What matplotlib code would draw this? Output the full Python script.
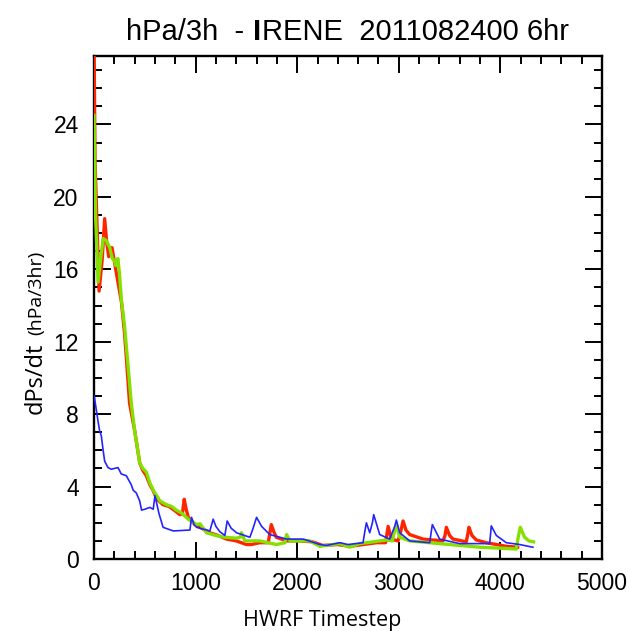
import matplotlib
matplotlib.use("Agg")
import matplotlib.pyplot as plt
from matplotlib.ticker import MultipleLocator

# ---------------- data ----------------
red_x = [0, 10, 50, 80, 105, 125, 145, 177, 220, 270, 300, 320, 350, 400, 450, 480, 515, 550,
         580, 620, 680, 740, 800, 845, 870, 888, 905, 928, 993, 1060, 1140, 1220, 1305, 1400,
         1500, 1550, 1630, 1715, 1745, 1770, 1795, 1895, 2025, 2150, 2250, 2400, 2520, 2650,
         2780, 2870, 2895, 2927, 2992, 3010, 3042, 3070, 3107, 3238, 3435, 3455, 3468, 3500,
         3533, 3664, 3680, 3690, 3720, 3763, 3861, 3960, 4058, 4170]
red_y = [29.0, 22.0, 14.8, 16.5, 18.8, 17.5, 16.7, 17.2, 15.8, 14.2, 12.5, 11.0, 8.6, 7.1, 5.3,
         4.9, 4.6, 4.1, 3.8, 3.3, 3.0, 2.9, 2.65, 2.45, 2.5, 3.3, 2.8, 2.3, 1.9, 1.7, 1.45, 1.3,
         1.1, 1.0, 0.8, 0.8, 0.9, 0.9, 1.9, 1.5, 1.2, 1.0, 1.0, 0.95, 0.75, 0.8, 0.7, 0.8, 0.9,
         0.9, 1.8, 1.1, 1.0, 1.3, 2.1, 1.6, 1.35, 1.1, 1.0, 1.3, 1.75, 1.3, 1.1, 0.95, 1.4, 1.75,
         1.3, 1.05, 0.9, 0.8, 0.7, 0.65]

green_x = [0, 15, 40, 70, 90, 120, 155, 180, 200, 215, 235, 250, 270, 300, 330, 367, 400, 450,
           480, 515, 550, 583, 650, 715, 765, 810, 860, 928, 1010, 1042, 1108, 1200, 1288, 1400,
           1440, 1452, 1485, 1630, 1795, 1880, 1895, 1930, 2025, 2124, 2222, 2419, 2517, 2615,
           2750, 2878, 2937, 2960, 2976, 3009, 3107, 3300, 3402, 3599, 3800, 3992, 4156, 4175,
           4196, 4238, 4280, 4326]
green_y = [24.5, 19.0, 15.3, 16.8, 17.7, 17.6, 17.2, 16.6, 16.5, 16.2, 16.6, 15.8, 14.3, 12.9,
           11.0, 8.6, 7.1, 5.3, 5.0, 4.8, 4.2, 3.8, 3.2, 3.0, 2.9, 2.7, 2.55, 2.2, 1.9, 1.95,
           1.45, 1.3, 1.2, 1.15, 1.2, 1.45, 1.0, 1.0, 0.8, 0.9, 1.35, 1.0, 1.0, 1.0, 0.7, 0.85,
           0.65, 0.85, 0.95, 1.05, 1.0, 1.6, 1.9, 1.2, 1.0, 0.9, 0.85, 0.75, 0.65, 0.6, 0.55,
           1.2, 1.75, 1.2, 1.0, 0.95]

blue_x = [0, 5, 40, 55, 72, 90, 105, 138, 170, 200, 236, 268, 318, 367, 386, 416, 450, 468, 500,
          550, 583, 600, 640, 680, 780, 944, 960, 985, 1010, 1140, 1173, 1200, 1240, 1288, 1311,
          1350, 1403, 1534, 1560, 1600, 1650, 1730, 1895, 2058, 2090, 2222, 2288, 2419, 2500,
          2648, 2668, 2681, 2714, 2740, 2753, 2812, 2910, 2960, 2976, 3009, 3107, 3304, 3322,
          3330, 3402, 3599, 3894, 3905, 3910, 3960, 4058, 4189, 4320]
blue_y = [9.0, 8.9, 7.6, 7.1, 6.8, 6.0, 5.4, 5.05, 4.96, 5.0, 5.05, 4.7, 4.6, 4.1, 3.8, 3.65, 3.2,
          2.7, 2.75, 2.85, 2.75, 3.5, 2.5, 1.75, 1.55, 1.6, 2.3, 1.9, 1.75, 1.55, 2.2, 1.8, 1.5,
          1.3, 2.1, 1.7, 1.45, 1.2, 1.6, 2.3, 1.8, 1.35, 1.1, 1.1, 1.05, 0.8, 0.75, 0.9, 0.8, 0.9,
          1.6, 2.0, 1.45, 2.0, 2.45, 1.35, 1.1, 1.8, 2.15, 1.45, 1.0, 0.9, 1.6, 1.9, 1.1, 0.85,
          0.85, 1.5, 1.83, 1.3, 0.9, 0.8, 0.65]

x_ticks = [0, 1000, 2000, 3000, 4000, 5000]
y_ticks = [0, 4, 8, 12, 16, 20, 24]
title_parts = ["hPa/3h  -", "I", "RENE  2011082400 6hr"]
title_full = "hPa/3h  - IRENE  2011082400 6hr"
xlabel_text = "HWRF Timestep"
ylabel_main = "dPs/dt"
ylabel_unit = "(hPa/3hr)"

# ---------------- figure ----------------
W, H = 629, 631
fig = plt.figure(figsize=(W / 100, H / 100), dpi=100)
L, R, T, B = 94, 602, 55.7, 559
ax = fig.add_axes([L / W, 1 - B / H, (R - L) / W, (B - T) / H])

ax.plot(red_x, red_y, color="#ff2400", lw=2.4, solid_joinstyle="round", zorder=3)
ax.plot(green_x, green_y, color="#84e000", lw=2.4, solid_joinstyle="round", zorder=4)
ax.plot(blue_x, blue_y, color="#2424ff", lw=1.2, solid_joinstyle="round", zorder=5)

ax.set_xlim(0, 5000)
ax.set_ylim(0, 27.8)
ax.set_xticks(x_ticks)
ax.set_yticks(y_ticks)
ax.xaxis.set_minor_locator(MultipleLocator(200))
ax.yaxis.set_minor_locator(MultipleLocator(1))

tick_font = {"family": "Liberation Sans", "size": 16.5}
ax.set_xticklabels([str(v) for v in x_ticks], fontdict=tick_font)
ax.set_yticklabels([str(v) for v in y_ticks], fontdict=tick_font)

ax.tick_params(which="both", direction="in", top=True, right=True, width=1.4, color="black")
ax.tick_params(which="major", length=12)
ax.tick_params(which="minor", length=5.5)
ax.tick_params(axis="x", which="major", pad=9)
ax.tick_params(axis="y", which="major", pad=11)
for s in ax.spines.values():
    s.set_linewidth(1.7)

# title in three adjacent pieces (the "I" is heavier in the reference)
tfont = dict(family="Liberation Sans", fontsize=21)
ty = 1 - 40 / H
renderer = fig.canvas.get_renderer()
def _w(s, **kw):
    t = fig.text(0, 0, s, **kw)
    w = t.get_window_extent(renderer).width
    t.remove()
    return w
full_w = _w(title_full, **tfont)
left_px = 347 - full_w / 2
pre_end = _w("hPa/3h  - Ix", **tfont) - _w("x", **tfont)   # end of "I"
i_w = _w("I", **tfont)
fig.text(left_px / W, ty, title_parts[0], ha="left", va="baseline", **tfont)
fig.text((pre_end - i_w / 2 + left_px) / W, ty, title_parts[1], ha="center", va="baseline",
         family="Liberation Sans", fontsize=21, fontweight="bold")
fig.text((left_px + pre_end + 1.5) / W, ty, title_parts[2], ha="left", va="baseline", **tfont)

# x label
fig.text(322 / W, 1 - 626 / H, xlabel_text, ha="center", va="baseline",
         family="Open Sans", fontsize=15.5)
# y label (two sizes)
fig.text(42 / W, 1 - 378 / H, ylabel_main, rotation=90, rotation_mode="anchor",
         ha="center", va="baseline", family="Open Sans", fontsize=17)
fig.text(41 / W, 1 - 293 / H, ylabel_unit, rotation=90, rotation_mode="anchor",
         ha="center", va="baseline", family="Open Sans", fontsize=14)

fig.savefig("out.png", dpi=100)
